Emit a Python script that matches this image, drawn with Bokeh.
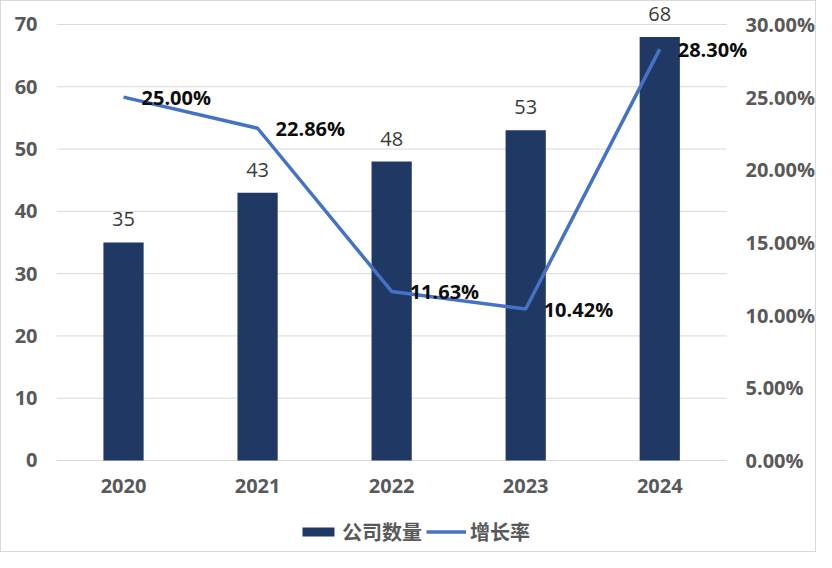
from bokeh.plotting import figure
from bokeh.models import (Range1d, LinearAxis, FixedTicker, NumeralTickFormatter,
                          Legend, LegendItem, ColumnDataSource, LabelSet)
from bokeh.core.properties import value
from bokeh.embed import file_html
from bokeh.resources import INLINE

years = ["2020", "2021", "2022", "2023", "2024"]
companies = [35, 43, 48, 53, 68]
growth = [0.2500, 0.2286, 0.1163, 0.1042, 0.2830]
left_ticks = [0, 10, 20, 30, 40, 50, 60, 70]
right_ticks = [0.0, 0.05, 0.10, 0.15, 0.20, 0.25, 0.30]
bar_name = "公司数量"
line_name = "增长率"

BAR = "#203864"
LINE = "#4472C4"
GRAY = "#595959"
NUM_FONT = "Open Sans"
CJK_FONT = "Noto Sans CJK SC"

idx = list(range(len(years)))
src = ColumnDataSource(dict(
    x=idx, n=companies, g=growth,
    nlab=[str(v) for v in companies],
    glab=[f"{v:.2%}" for v in growth],
))

# the frame covers the whole chart area so that no label is clipped
p = figure(width=816, height=552,
           x_range=Range1d(-0.5, 5.035), y_range=Range1d(-14.61, 73.69),
           output_backend="svg", toolbar_location=None,
           min_border_left=55, min_border_right=16, min_border_top=0,
           min_border_bottom=2)
p.extra_y_ranges = {"pct": Range1d(-0.0626, 0.3158)}
p.outline_line_color = None
p.background_fill_color = "white"
p.border_fill_color = "white"
p.styles = {"border": "1px solid #d9d9d9"}

# horizontal grid lines across the category span
p.segment(x0=[-0.5] * len(left_ticks), x1=[len(years) - 0.5] * len(left_ticks),
          y0=left_ticks, y1=left_ticks, line_color="#d9d9d9", line_width=1)

bars = p.vbar(x="x", top="n", width=0.30, source=src, fill_color=BAR, line_color=None)
line = p.line(x="x", y="g", source=src, y_range_name="pct", line_color=LINE,
              line_width=3.5)

p.add_layout(LabelSet(x="x", y="n", text="nlab", source=src, text_align="center",
                      text_baseline="bottom", y_offset=16, text_font=value(NUM_FONT),
                      text_font_size="20px", text_color="#3a3a3a"))
p.add_layout(LabelSet(x="x", y="g", text="glab", source=src, y_range_name="pct",
                      x_offset=18, text_align="left", text_baseline="middle",
                      text_font=value(NUM_FONT), text_font_size="20px",
                      text_font_style="bold", text_color="#0d0d0d"))

# axes
p.xaxis.ticker = FixedTicker(ticks=idx)
p.xaxis.major_label_overrides = {i: y for i, y in zip(idx, years)}
p.yaxis.ticker = FixedTicker(ticks=left_ticks)
right = LinearAxis(y_range_name="pct", ticker=FixedTicker(ticks=right_ticks),
                   formatter=NumeralTickFormatter(format="0.00%"))
p.add_layout(right, "right")
for ax in [p.xaxis[0], p.yaxis[0], right]:
    ax.axis_line_color = None
    ax.major_tick_line_color = None
    ax.minor_tick_line_color = None
    ax.major_label_text_font = NUM_FONT
    ax.major_label_text_font_style = "bold"
    ax.major_label_text_font_size = "20px"
    ax.major_label_text_color = GRAY
p.yaxis[0].major_label_standoff = 13
right.major_label_standoff = -59
p.xaxis[0].major_label_standoff = -79

p.xgrid.grid_line_color = None
p.ygrid.grid_line_color = None

legend = Legend(items=[LegendItem(label=bar_name, renderers=[bars]),
                       LegendItem(label=line_name, renderers=[line])],
                orientation="horizontal", location=(242, 5),
                glyph_width=40, glyph_height=11, label_height=20,
                label_standoff=4, spacing=4, padding=0, margin=0,
                border_line_color=None, background_fill_alpha=0,
                label_text_font=CJK_FONT, label_text_font_style="bold",
                label_text_font_size="20px", label_text_color=GRAY)
p.add_layout(legend, "center")

open("out.html", "w").write(file_html(p, INLINE))
